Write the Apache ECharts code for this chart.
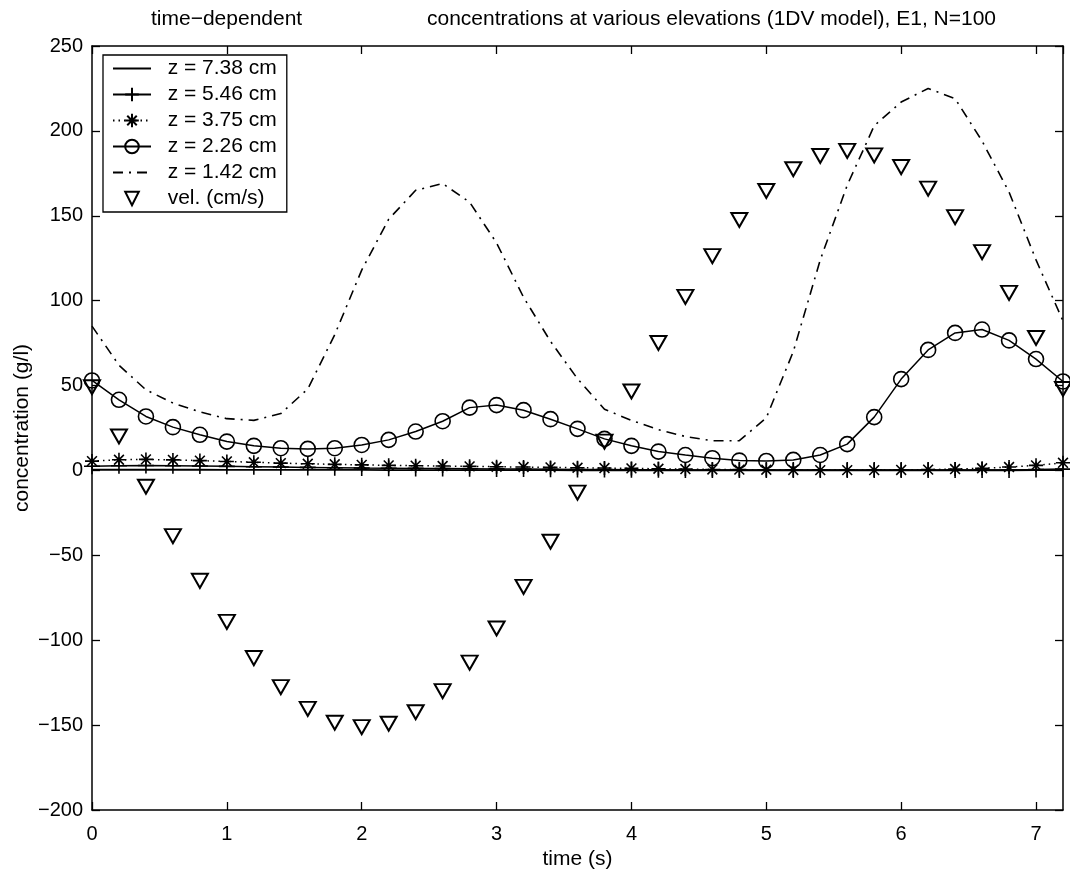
<!DOCTYPE html>
<html>
<head>
<meta charset="utf-8">
<script src="https://cdn.jsdelivr.net/npm/echarts@6/dist/echarts.min.js"></script>
<style>html,body{margin:0;padding:0;background:#fff}#c{width:1070px;height:872px}</style>
</head>
<body>
<div id="c"></div>
<script>
var times = [0,0.2,0.4,0.6,0.8,1.0,1.2,1.4,1.6,1.8,2.0,2.2,2.4,2.6,2.8,3.0,3.2,3.4,3.6,3.8,4.0,4.2,4.4,4.6,4.8,5.0,5.2,5.4,5.6,5.8,6.0,6.2,6.4,6.6,6.8,7.0,7.2];
var z738 = [0.4,0.4,0.4,0.4,0.4,0.3,0.3,0.3,0.3,0.3,0.3,0.2,0.2,0.2,0.2,0.2,0.2,0.2,0.1,0.1,0.1,0.1,0.1,0.1,0.1,0.1,0.1,0.1,0.1,0.1,0.1,0.1,0.1,0.1,0.1,0.2,0.2];
var z546 = [2.5,2.8,2.9,2.8,2.6,2.4,2.2,2.0,1.8,1.6,1.4,1.3,1.2,1.1,1.0,0.9,0.8,0.7,0.6,0.5,0.4,0.35,0.3,0.25,0.2,0.2,0.2,0.2,0.2,0.2,0.2,0.2,0.2,0.3,0.3,0.5,0.8];
var z375 = [5.5,6.3,6.5,6.2,5.8,5.3,4.8,4.3,3.9,3.6,3.3,3.0,2.8,2.6,2.4,2.2,2.0,1.8,1.6,1.4,1.2,1.0,0.8,0.6,0.5,0.4,0.3,0.2,0.2,0.2,0.3,0.5,0.8,1.3,2.0,3.0,4.5];
var z226 = [53,41.6,31.8,25.5,21,17,14.5,13.1,12.7,13.1,15,18,22.9,29,37,38.5,35.5,30.2,24.5,18.6,14.5,11.1,9.1,7.2,5.8,5.6,6.2,9.1,15.5,31.4,53.8,71,81,83,76.6,65.6,52.4];
var z142 = [85,62,47.5,39.7,34.5,30.5,29.5,33.5,48,80,118,148,165,169,158,134,102,76,54,36,29.5,24,20,17.5,17.5,31,70,124,168,203,217,225,219,194,164,124,88];
var vel = [49,20,-9.6,-38.7,-65,-89.2,-110.5,-127.6,-140.4,-148.6,-151.2,-149.2,-142.4,-130,-113.2,-93.1,-68.6,-42,-13.1,17,46.5,75.1,102.2,126.2,147.5,164.6,177.4,185.2,188.2,185.6,178.7,166,149.2,128.6,104.6,78,48];
var xTicks = [0,1,2,3,4,5,6,7];
var yTicks = [-200,-150,-100,-50,0,50,100,150,200,250];
var names = ['z = 7.38 cm','z = 5.46 cm','z = 3.75 cm','z = 2.26 cm','z = 1.42 cm','vel. (cm/s)'];
var titleLeft = 'time\u2212dependent';
var titleRight = 'concentrations at various elevations (1DV model), E1, N=100';

function pairs(arr){ return times.map(function(t,i){ return [t, arr[i]]; }); }

var FONT = 'Liberation Sans, Arial, Helvetica, sans-serif';
var BLACK = '#000';
var symTri = 'path://M0,0 L10,0 L5,8.66 Z';
var symPlus = 'path://M5,0 L5,10 M0,5 L10,5';
var symStar = 'path://M5,0 L5,10 M0,5 L10,5 M1.5,1.5 L8.5,8.5 M8.5,1.5 L1.5,8.5';
var symCirc = 'path://M10,5 A5,5 0 1,1 0,5 A5,5 0 1,1 10,5 Z';
var symNone = 'path://M0,0 L10,10';
var hidden = {color:'transparent', borderColor:'transparent', borderWidth:0};

var chart = echarts.init(document.getElementById('c'), null, {renderer:'canvas'});
var xmin = 0, xmax = 7.2, ymin = -200, ymax = 250;
var FS = 21, TFS = 20;

function axisCommon(extra){
  var o = {
    type:'value',
    axisLine:{show:true, onZero:false, lineStyle:{color:BLACK, width:1.5}},
    axisTick:{show:true, inside:true, length:8, lineStyle:{color:BLACK, width:1.3}},
    splitLine:{show:false},
    axisLabel:{color:BLACK, fontFamily:FONT, fontSize:TFS}
  };
  for (var k in extra) o[k] = extra[k];
  return o;
}

var option = {
  backgroundColor:'#fff',
  animation:false,
  title:[
    {text:titleLeft, left:146, top:4, textStyle:{fontFamily:FONT, fontSize:FS, fontWeight:'normal', color:BLACK}},
    {text:titleRight, left:422, top:4, textStyle:{fontFamily:FONT, fontSize:FS, fontWeight:'normal', color:BLACK}}
  ],
  grid:{left:92, right:7, top:46, bottom:62, show:false, containLabel:false, outerBoundsMode:'none'},
  legend:{
    show:true, orient:'vertical', left:103, top:55,
    backgroundColor:'#fff', borderColor:BLACK, borderWidth:1.3,
    padding:[3,10,3,9], itemGap:5, itemWidth:38, itemHeight:17,
    textStyle:{fontFamily:FONT, fontSize:FS, color:BLACK},
    formatter:function(n){ return '  ' + n; },
    data:names
  },
  xAxis:[
    axisCommon({min:xmin, max:xmax, interval:1, position:'bottom',
      name:'time (s)', nameLocation:'middle', nameGap:36,
      nameTextStyle:{color:BLACK, fontFamily:FONT, fontSize:FS},
      axisLabel:{color:BLACK, fontFamily:FONT, fontSize:TFS, margin:14, showMaxLabel:false,
        formatter:function(v){ return xTicks.indexOf(v) >= 0 ? String(v) : ''; }}}),
    axisCommon({min:xmin, max:xmax, interval:1, position:'top',
      axisLabel:{show:false}})
  ],
  yAxis:[
    axisCommon({min:ymin, max:ymax, interval:50, position:'left',
      name:'concentration (g/l)', nameLocation:'middle', nameGap:59, nameMoveOverlap:false,
      nameTextStyle:{color:BLACK, fontFamily:FONT, fontSize:FS},
      axisLabel:{color:BLACK, fontFamily:FONT, fontSize:TFS, margin:9,
        formatter:function(v){ return yTicks.indexOf(v) >= 0 ? String(v).replace('-', '\u2212') : ''; }}}),
    axisCommon({min:ymin, max:ymax, interval:50, position:'right',
      axisLabel:{show:false}})
  ],
  series:[
    {name:names[0], type:'line', data:pairs(z738), symbol:symNone, showSymbol:false,
      lineStyle:{color:BLACK, width:1.8}, itemStyle:hidden, z:3},
    {name:names[1], type:'line', data:pairs(z546), symbol:symPlus, symbolSize:16, showSymbol:true,
      lineStyle:{color:BLACK, width:1.5}, itemStyle:{color:'none', borderColor:BLACK, borderWidth:1.6}, z:4},
    {name:names[2], type:'line', data:pairs(z375), symbol:symStar, symbolSize:14, showSymbol:true,
      lineStyle:{color:BLACK, width:1.5, type:[1.5,4]}, itemStyle:{color:'none', borderColor:BLACK, borderWidth:1.6}, z:4},
    {name:names[3], type:'line', data:pairs(z226), symbol:symCirc, symbolSize:15, showSymbol:true,
      lineStyle:{color:BLACK, width:1.5}, itemStyle:{color:'none', borderColor:BLACK, borderWidth:1.6}, z:5},
    {name:names[4], type:'line', data:pairs(z142), symbol:symNone, showSymbol:false,
      lineStyle:{color:BLACK, width:1.6, type:[10,6,2,6]}, itemStyle:hidden, z:3},
    {name:names[5], type:'line', data:pairs(vel), symbol:symTri, symbolSize:[16,14], showSymbol:true,
      lineStyle:{color:BLACK, width:1, opacity:0}, itemStyle:{color:'none', borderColor:BLACK, borderWidth:2}, z:6}
  ]
};
chart.setOption(option);
</script>
</body>
</html>
